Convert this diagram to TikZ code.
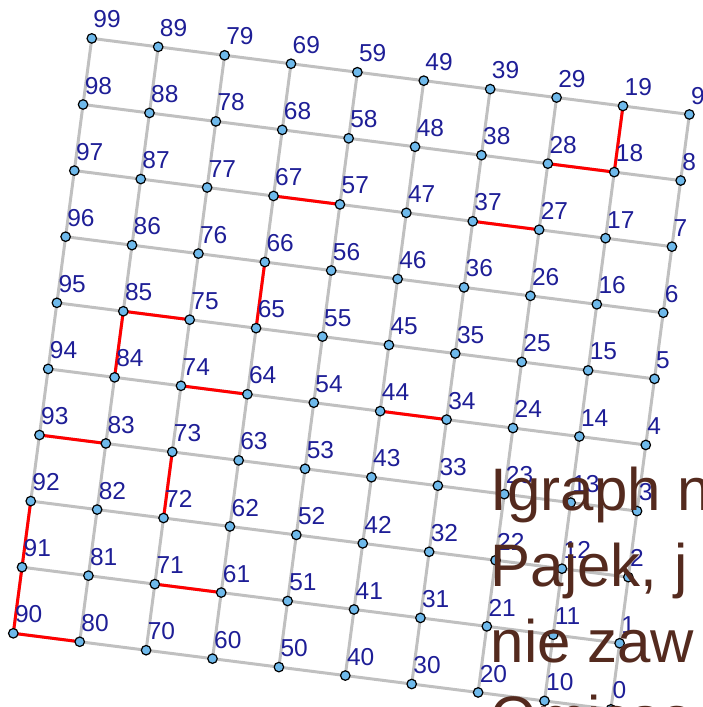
\documentclass[tikz,border=0pt]{standalone}
\usepackage{fontspec}
\setmainfont{Liberation Sans}
\usetikzlibrary{backgrounds}

\definecolor{dotblue}{RGB}{110,185,235}
\definecolor{numblue}{RGB}{30,30,150}
\definecolor{gridgrey}{RGB}{192,192,192}
\definecolor{cutred}{RGB}{255,0,0}
\definecolor{slidebrown}{RGB}{84,42,30}

\tikzset{
    vertex/.style={circle, draw=black, fill=dotblue, line width=1.2pt, minimum size=9.5pt, inner sep=0pt},
    vlabel/.style={anchor=south west, inner sep=0pt, text=numblue, font=\fontsize{24.5}{24.5}\selectfont},
    gridedge/.style={draw=gridgrey, line width=3pt},
    cutedge/.style={draw=cutred, line width=3pt},
    slidetext/.style={anchor=base west, inner sep=0pt, text=slidebrown, font=\fontsize{60}{72}\selectfont}
}

\begin{document}
\begin{tikzpicture}[x=1pt, y=-1pt]
        \useasboundingbox (0,0) rectangle (702,707);
        \clip (0,0) rectangle (702,707);

        % vertices, number k = 10*i + j
        \foreach \i in {0,...,9} {
            \foreach \j in {0,...,9} {
                \pgfmathsetmacro{\px}{13.3 + (9-\i)*66.4 + \j*8.72}
                \pgfmathsetmacro{\py}{633.3 + (9-\i)*8.45 - \j*66.1}
                \pgfmathtruncatemacro{\k}{10*\i + \j}
                \node[vertex] (n\k) at (\px, \py) {};
                \node[vlabel] (t\k) at ([xshift=1.5pt, yshift=10pt]n\k.center) {\k};
            }
        }

        \begin{scope}[on background layer]
            % grid edges
            \foreach \i in {1,...,9} {
                \foreach \j in {0,...,9} {
                    \pgfmathtruncatemacro{\a}{10*\i + \j}
                    \pgfmathtruncatemacro{\b}{\a - 10}
                    \draw[gridedge] (n\a.center) -- (n\b.center);
                }
            }
            \foreach \i in {0,...,9} {
                \foreach \j in {1,...,9} {
                    \pgfmathtruncatemacro{\a}{10*\i + \j}
                    \pgfmathtruncatemacro{\b}{\a - 1}
                    \draw[gridedge] (n\a.center) -- (n\b.center);
                }
            }
            % red edges
            \foreach \a/\b in {67/57, 37/27, 28/18, 18/19, 85/75, 85/84, 66/65, 74/64, 44/34,
                               93/83, 73/72, 92/91, 91/90, 90/80, 71/61}
                \draw[cutedge] (n\a.center) -- (n\b.center);
        \end{scope}

        \node[slidetext] (line1) at (490.5, 510) {Igraph n};
        \node[slidetext] (line2) at (490.5, 586) {Pajek, j};
        \node[slidetext] (line3) at (490.5, 662) {nie zaw};
        \node[slidetext] (line4) at (490.5, 738) {Omisso};
    \end{tikzpicture}
\end{document}
